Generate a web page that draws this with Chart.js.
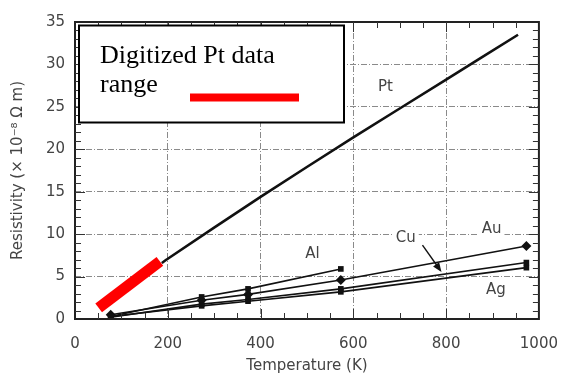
<!DOCTYPE html>
<html>
<head>
<meta charset="utf-8">
<script src="https://cdn.jsdelivr.net/npm/chart.js@4.4.0/dist/chart.umd.min.js"></script>
<style>
  html, body { margin: 0; padding: 0; background: #fff; }
  #wrap { width: 574px; height: 375px; }
</style>
</head>
<body>
<div id="wrap"><canvas id="chart" width="574" height="375"></canvas></div>
<script>
// measured temperatures (K) for the noble / common metals
const temps = [77, 273, 373, 573, 973];
// resistivity in 1e-8 ohm m
const alRho = [0.3, 2.6, 3.55, 5.9];
const auRho = [0.5, 2.2, 2.9, 4.6, 8.6];
const cuRho = [0.2, 1.75, 2.3, 3.55, 6.65];
const agRho = [0.3, 1.55, 2.1, 3.2, 6.05];

// platinum curve
const ptTemps = [187, 200, 400, 600, 800, 955];
const ptRho = [6.6, 7.1, 14.4, 21.4, 28.2, 33.5];

const digTemps = [51, 183];
const digRho = [1.3, 6.8];

const xTicks = [0, 200, 400, 600, 800, 1000];
const yTicks = [0, 5, 10, 15, 20, 25, 30, 35];

// curve names, placed in data units
const curveLabels = [
  { text: 'Pt', x: 669, y: 27.3 },
  { text: 'Al', x: 512, y: 7.7 },
  { text: 'Cu', x: 713, y: 9.5 },
  { text: 'Au', x: 898, y: 10.6 },
  { text: 'Ag', x: 907, y: 3.4 }
];
// arrow from the Cu label down onto its line
const cuArrow = { from: [749, 8.7], to: [790, 5.55] };

const pts = (xs, ys) => ys.map((v, i) => ({ x: xs[i], y: v }));

const metal = (label, ys, shape) => ({
  label,
  data: pts(temps, ys),
  showLine: true,
  borderColor: '#111',
  backgroundColor: '#111',
  borderWidth: 1.6,
  pointStyle: shape,
  pointRadius: shape === 'rectRot' ? 5 : 4,
  pointBorderWidth: 0,
  tension: 0
});

const tickFont = { family: 'DejaVu Sans', size: 15 };
const titleFont = { family: 'DejaVu Sans', size: 15 };

const overlay = {
  id: 'overlay',
  afterDatasetsDraw(chart) {
    const { ctx, chartArea: a, scales: { x, y } } = chart;
    ctx.save();

    // curve names on white backing
    ctx.font = '15px "DejaVu Sans"';
    ctx.textAlign = 'center';
    ctx.textBaseline = 'middle';
    for (const l of curveLabels) {
      const px = x.getPixelForValue(l.x), py = y.getPixelForValue(l.y);
      const w = ctx.measureText(l.text).width;
      ctx.fillStyle = '#fff';
      ctx.fillRect(px - w / 2 - 3, py - 8, w + 6, 16);
      ctx.fillStyle = '#444';
      ctx.fillText(l.text, px, py);
    }

    // Cu arrow
    const x0 = x.getPixelForValue(cuArrow.from[0]), y0 = y.getPixelForValue(cuArrow.from[1]);
    const x1 = x.getPixelForValue(cuArrow.to[0]), y1 = y.getPixelForValue(cuArrow.to[1]);
    const ang = Math.atan2(y1 - y0, x1 - x0);
    ctx.strokeStyle = '#111';
    ctx.lineWidth = 1.4;
    ctx.beginPath();
    ctx.moveTo(x0, y0);
    ctx.lineTo(x1 - 6 * Math.cos(ang), y1 - 6 * Math.sin(ang));
    ctx.stroke();
    ctx.fillStyle = '#111';
    ctx.beginPath();
    ctx.moveTo(x1, y1);
    ctx.lineTo(x1 - 10 * Math.cos(ang - 0.38), y1 - 10 * Math.sin(ang - 0.38));
    ctx.lineTo(x1 - 10 * Math.cos(ang + 0.38), y1 - 10 * Math.sin(ang + 0.38));
    ctx.closePath();
    ctx.fill();

    // frame
    ctx.strokeStyle = '#222';
    ctx.lineWidth = 2;
    ctx.strokeRect(a.left, a.top, a.right - a.left, a.bottom - a.top);

    // inward ticks on all four sides
    ctx.lineWidth = 1;
    ctx.strokeStyle = '#333';
    ctx.beginPath();
    for (let t = 50; t < 1000; t += 50) {
      const px = Math.round(x.getPixelForValue(t)) + 0.5;
      const len = t % 200 === 0 ? 10 : 6;
      ctx.moveTo(px, a.bottom); ctx.lineTo(px, a.bottom - len);
      ctx.moveTo(px, a.top); ctx.lineTo(px, a.top + len);
    }
    for (let r = 1; r < 35; r++) {
      const py = Math.round(y.getPixelForValue(r)) + 0.5;
      const len = r % 5 === 0 ? 10 : 6;
      ctx.moveTo(a.left, py); ctx.lineTo(a.left + len, py);
      ctx.moveTo(a.right, py); ctx.lineTo(a.right - len, py);
    }
    ctx.stroke();

    // key box for the digitized range
    const bx = a.left + 4, by = a.top + 3.5, bw = 265, bh = 97;
    ctx.fillStyle = '#fff';
    ctx.fillRect(bx, by, bw, bh);
    ctx.strokeStyle = '#000';
    ctx.lineWidth = 2;
    ctx.strokeRect(bx, by, bw, bh);
    ctx.fillStyle = '#000';
    ctx.font = '26px "Liberation Serif"';
    ctx.textAlign = 'left';
    ctx.textBaseline = 'alphabetic';
    ctx.fillText('Digitized Pt data', bx + 21, by + 37);
    ctx.fillText('range', bx + 21, by + 66);
    ctx.strokeStyle = '#ff0000';
    ctx.lineWidth = 8;
    ctx.beginPath();
    ctx.moveTo(bx + 111, by + 72);
    ctx.lineTo(bx + 220, by + 72);
    ctx.stroke();

    ctx.restore();
  }
};

new Chart(document.getElementById('chart'), {
  type: 'scatter',
  data: {
    datasets: [
      metal('Al', alRho, 'rect'),
      metal('Au', auRho, 'rectRot'),
      metal('Cu', cuRho, 'rect'),
      metal('Ag', agRho, 'rect'),
      {
        label: 'Pt',
        data: pts(ptTemps, ptRho),
        showLine: true,
        borderColor: '#111',
        borderWidth: 2.6,
        pointRadius: 0,
        tension: 0.2
      },
      {
        label: 'Digitized Pt data range',
        data: pts(digTemps, digRho),
        showLine: true,
        borderColor: '#ff0000',
        borderWidth: 11,
        borderCapStyle: 'butt',
        pointRadius: 0
      }
    ]
  },
  options: {
    responsive: false,
    animation: false,
    devicePixelRatio: 1,
    layout: { padding: { top: 22, right: 28, left: 0, bottom: 0 } },
    plugins: {
      legend: { display: false },
      tooltip: { enabled: false }
    },
    scales: {
      x: {
        type: 'linear',
        min: 0,
        max: 1000,
        afterBuildTicks: s => { s.ticks = xTicks.map(v => ({ value: v })); },
        afterFit: s => { s.height = 56; },
        grid: { color: '#8a8a8a', lineWidth: 1, drawTicks: false },
        border: { display: false, dash: [6, 2, 1, 2] },
        ticks: { font: tickFont, color: '#444', padding: 16, maxRotation: 0, callback: v => String(v) },
        title: {
          display: true,
          text: 'Temperature (K)',
          font: titleFont,
          color: '#444',
          padding: { top: 0, bottom: 0 }
        }
      },
      y: {
        type: 'linear',
        min: 0,
        max: 35,
        afterBuildTicks: s => { s.ticks = yTicks.map(v => ({ value: v })); },
        afterFit: s => { s.width = 75; },
        grid: { color: '#8a8a8a', lineWidth: 1, drawTicks: false },
        border: { display: false, dash: [6, 2, 1, 2] },
        ticks: { font: tickFont, color: '#444', padding: 10, callback: v => String(v) },
        title: {
          display: true,
          text: 'Resistivity (\u00d7 10\u207b\u2078 \u03a9 m)',
          font: titleFont,
          color: '#444',
          padding: { top: 9, bottom: 0 }
        }
      }
    }
  },
  plugins: [overlay]
});
</script>
</body>
</html>
